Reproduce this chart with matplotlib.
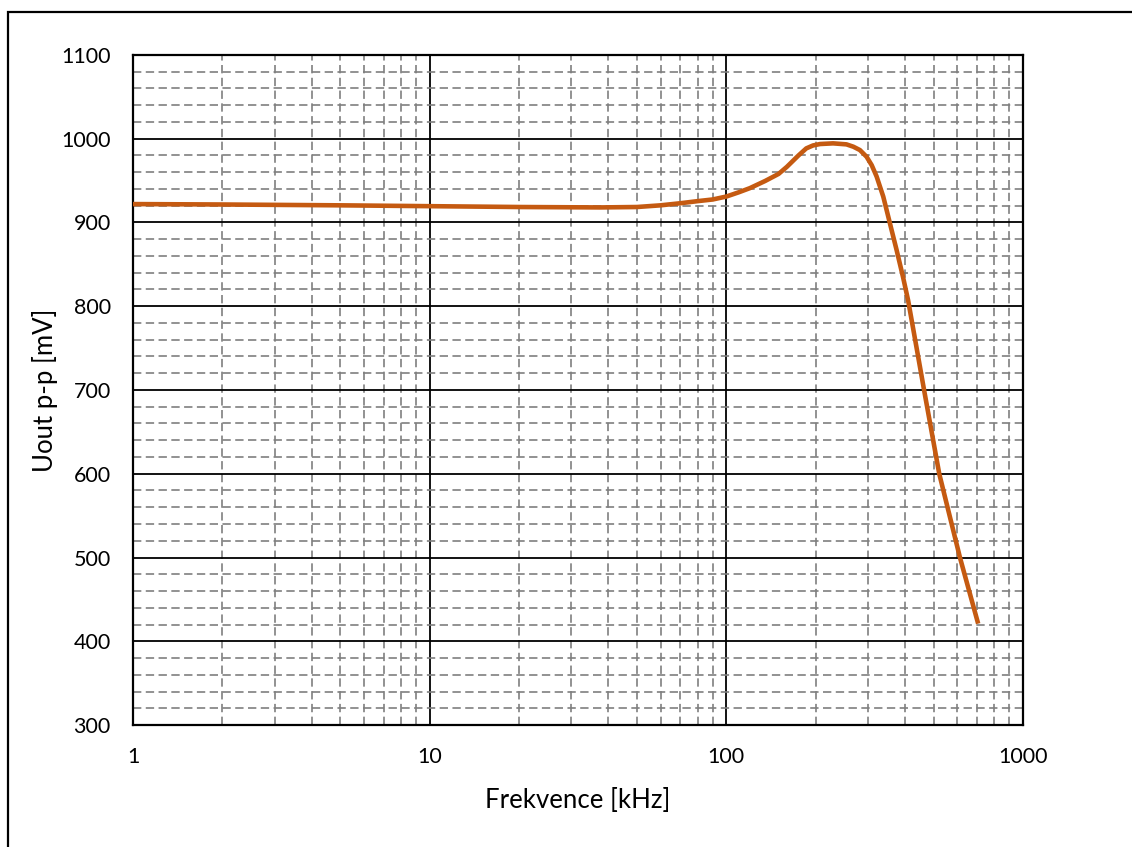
import matplotlib
matplotlib.use('Agg')
import matplotlib.pyplot as plt
from matplotlib.patches import Rectangle
from matplotlib.ticker import MultipleLocator, LogLocator, FixedLocator, NullFormatter

plt.rcParams['font.family'] = ['Lato', 'DejaVu Sans']
plt.rcParams['lines.scale_dashes'] = False

# frekvenční charakteristika - odečtené body
freq_khz = [1, 2, 5, 10, 20, 37.5, 50, 60, 70, 80, 90, 100, 110, 120, 135, 150,
            160, 175, 186, 196, 207, 229, 254, 268, 282, 297, 309, 321, 338,
            356, 375, 394, 410, 437, 464, 522, 613, 706]
uout_mv = [922, 921.5, 920.5, 919.5, 918.5, 918, 918.5, 920.5, 923, 925.5, 927.5,
           931, 936, 941, 949.5, 958, 966.5, 980, 988.5, 992, 993.7, 994.5, 993.3,
           990.5, 986.5, 978.5, 968.5, 955, 931, 899, 867, 835, 807, 752, 700,
           600, 500, 421]

x_ticks = [1, 10, 100, 1000]
x_labels = ['1', '10', '100', '1000']
y_ticks = [300, 400, 500, 600, 700, 800, 900, 1000, 1100]

W, H = 1132, 847
fig = plt.figure(figsize=(W / 100, H / 100), dpi=100)
ax = fig.add_axes([133 / W, 1 - 725 / H, (1023 - 133) / W, (725 - 55) / H])

ax.plot(freq_khz, uout_mv, color='#C55A11', linewidth=3.3,
        solid_capstyle='butt', solid_joinstyle='round', zorder=3)

ax.set_xscale('log')
ax.set_xlim(1, 1000)
ax.set_ylim(300, 1100)
ax.xaxis.set_major_locator(FixedLocator(x_ticks))
ax.set_xticklabels(x_labels)
ax.xaxis.set_minor_locator(LogLocator(base=10, subs=range(2, 10)))
ax.xaxis.set_minor_formatter(NullFormatter())
ax.yaxis.set_major_locator(FixedLocator(y_ticks))
ax.yaxis.set_minor_locator(MultipleLocator(20))

ax.grid(which='minor', color='#7f7f7f', linewidth=1.2, linestyle=(0, (6, 3.2)), zorder=1)
ax.grid(which='major', color='black', linewidth=1.3, linestyle='-', zorder=2)
ax.set_axisbelow(True)

ax.tick_params(which='both', length=0)
ax.tick_params(axis='x', labelsize=15.5, pad=16)
ax.tick_params(axis='y', labelsize=15.5, pad=16)
for s in ax.spines.values():
    s.set_linewidth(1.6)

ax.set_xlabel('Frekvence [kHz]', fontsize=18.5, labelpad=15)
ax.set_ylabel('Uout p-p [mV]', fontsize=18.5, labelpad=2)

# rámeček kolem grafu
fig.add_artist(Rectangle((8 / W, -0.1), 1.2, 1.1 - 12 / H, transform=fig.transFigure,
                         fill=False, edgecolor='black', linewidth=1.6))

fig.savefig('out.png', dpi=100)
